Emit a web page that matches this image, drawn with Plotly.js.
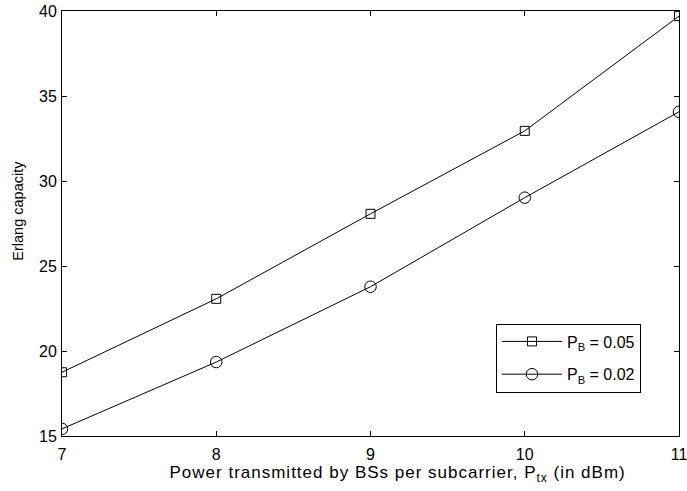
<!DOCTYPE html>
<html>
<head>
<meta charset="utf-8">
<script src="https://cdn.plot.ly/plotly-3.0.1.min.js"></script>
<style>
html,body{margin:0;padding:0;background:#fff;}
#chart{width:687px;height:491px;}
#chart .annotation[data-index="0"] text{letter-spacing:1px;}
</style>
</head>
<body>
<div id="chart"></div>
<script>
const ptx = [7, 8, 9, 10, 11];
const erlangPB005 = [18.75, 23.07, 28.07, 32.95, 39.7];
const erlangPB002 = [15.42, 19.35, 23.78, 29.02, 34.07];
const seriesNames = ['P<sub>B</sub> = 0.05', 'P<sub>B</sub> = 0.02'];
const xTicks = [7, 8, 9, 10, 11];
const yTicks = [15, 20, 25, 30, 35, 40];
const xTitle = 'Power transmitted by BSs per subcarrier, P<sub>tx</sub> (in dBm)';
const yTitle = 'Erlang capacity';

const font = {family: 'Liberation Sans, Arial, Helvetica, sans-serif', color: '#000'};

const traces = [
  {x: ptx, y: erlangPB005, name: seriesNames[0], legendgroup: 'a', mode: 'lines+markers', type: 'scatter',
   line: {color: '#000', width: 1},
   marker: {symbol: 'square-open', size: 9, color: '#000', line: {width: 1, color: '#000'}}},
  {x: ptx, y: erlangPB002, name: seriesNames[1], legendgroup: 'b', mode: 'lines+markers', type: 'scatter',
   line: {color: '#000', width: 1},
   marker: {symbol: 'circle-open', size: 11.5, color: '#000', line: {width: 1, color: '#000'}}}
];

const axisCommon = {
  showline: true, linecolor: '#000', linewidth: 1, mirror: 'ticks',
  ticks: 'inside', ticklen: 5, tickcolor: '#000', tickwidth: 1,
  showgrid: false, zeroline: false,
  ticklabeloverflow: 'allow',
  tickfont: Object.assign({size: 16}, font)
};

const layout = {
  width: 687, height: 491,
  margin: {l: 62, r: 8, t: 11, b: 55},
  paper_bgcolor: '#fff', plot_bgcolor: '#fff',
  font: font,
  showlegend: true,
  xaxis: Object.assign({}, axisCommon, {
    range: [7, 11], tickvals: xTicks, ticktext: xTicks.map(String),
    ticklabelstandoff: 4
  }),
  yaxis: Object.assign({}, axisCommon, {
    range: [15, 40], tickvals: yTicks, ticktext: yTicks.map(String),
    ticklabelstandoff: 1
  }),
  annotations: [
    {text: xTitle, xref: 'paper', yref: 'paper', x: 0.544, y: -0.0586, xanchor: 'center', yanchor: 'top',
     showarrow: false, font: Object.assign({size: 17}, font)},
    {text: yTitle, xref: 'paper', yref: 'paper', x: -0.0705, y: 0.529, xanchor: 'center', yanchor: 'middle',
     textangle: -90, showarrow: false, font: Object.assign({size: 14.5}, font)}
  ],
  legend: {
    x: 0.7034, y: 0.2647, xanchor: 'left', yanchor: 'top',
    bgcolor: '#fff', bordercolor: '#000', borderwidth: 1,
    font: Object.assign({size: 16}, font),
    itemwidth: 60,
    tracegroupgap: 9
  }
};

Plotly.newPlot('chart', traces, layout, {displayModeBar: false, staticPlot: true});
</script>
</body>
</html>
